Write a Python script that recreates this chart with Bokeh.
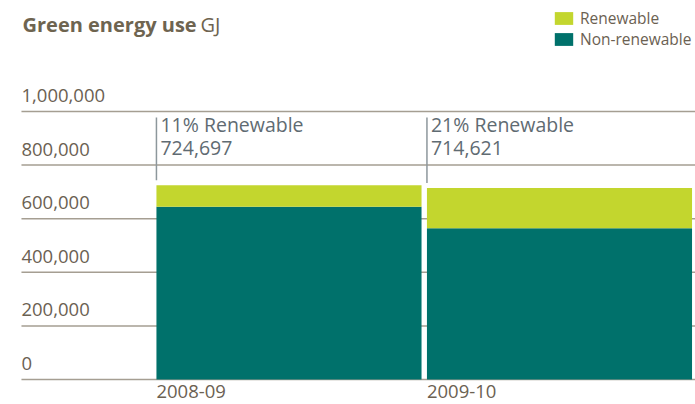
from bokeh.plotting import figure
from bokeh.models import ColumnDataSource, Range1d, Label, Legend, LegendItem
from bokeh.core.properties import value
from bokeh.embed import file_html
from bokeh.resources import INLINE

# ---- data ----
years = ["2008-09", "2009-10"]
total = [724697, 714621]
renewable_pct = [11, 21]
renewable = [79717, 150070]
non_renewable = [644980, 564551]
y_ticks = [0, 200000, 400000, 600000, 800000, 1000000]
y_tick_labels = ["0", "200,000", "400,000", "600,000", "800,000", "1,000,000"]

# ---- style ----
FONT = value("Open Sans")
TEAL = "#00716b"
LIME = "#c3d62e"
BROWN = "#6b6152"
GRID = "#a59e92"
NOTE = "#5f6b72"
BAR_W = 0.98
X0, X1 = -1.0665, 1.5028
GRID_X0 = -0.989

p = figure(width=695, height=404, output_backend="svg", toolbar_location=None,
           x_range=Range1d(X0, X1), y_range=Range1d(-93284, 1414179),
           x_axis_type=None, y_axis_type=None, title=None,
           min_border_left=0, min_border_right=0, min_border_top=0, min_border_bottom=0,
           outline_line_color=None)
p.grid.visible = False

# gridlines
n = len(y_ticks)
p.segment(x0=[GRID_X0] * n, x1=[X1] * n, y0=y_ticks, y1=y_ticks,
          line_color=GRID, line_width=1.5)
# tick labels above gridlines
p.text(x=[GRID_X0] * n, y=y_ticks, text=y_tick_labels, text_font=FONT,
       text_font_size="18.5px", text_color=BROWN, text_align="left",
       text_baseline="alphabetic", y_offset=-16)

# bars
idx = list(range(len(years)))
src = ColumnDataSource(dict(x=idx, non=non_renewable, ren=renewable))
rs = p.vbar_stack(["non", "ren"], x="x", width=BAR_W, color=[TEAL, LIME],
                  line_color=None, source=src)

# annotations
left = [i - BAR_W / 2 for i in idx]
p.segment(x0=left, x1=left, y0=[1000000 - 22400] * len(idx),
          y1=[t + 18700 for t in total], line_color="#8d979c", line_width=1.5)
line1 = [f"{pc}% Renewable" for pc in renewable_pct]
line2 = [f"{t:,}" for t in total]
p.text(x=left, y=[1000000] * len(idx), text=line1, text_font=FONT,
       text_font_size="19.5px", text_color=NOTE, text_baseline="alphabetic",
       x_offset=4, y_offset=13)
p.text(x=left, y=[1000000] * len(idx), text=line2, text_font=FONT,
       text_font_size="19.5px", text_color=NOTE, text_baseline="alphabetic",
       x_offset=4, y_offset=37)

# x labels
p.text(x=left, y=[0] * len(idx), text=years, text_font=FONT,
       text_font_size="18.5px", text_color=BROWN, text_baseline="alphabetic",
       y_offset=12)

# title
p.add_layout(Label(x=22, y=380, x_units="screen", y_units="screen",
                   text="Green energy use", text_font="Open Sans",
                   text_font_style="bold", text_font_size="20px",
                   text_color="#6e6450", text_baseline="alphabetic"))
p.add_layout(Label(x=200, y=380, x_units="screen", y_units="screen",
                   text="GJ", text_font="Open Sans", text_font_size="20px",
                   text_color="#6e6450", text_baseline="alphabetic"))

common = dict(glyph_width=23, glyph_height=16, label_height=16, padding=0,
              margin=0, border_line_color=None, background_fill_alpha=0,
              label_text_font="Open Sans", label_text_font_size="15.5px",
              label_text_color=BROWN, label_standoff=5)
p.add_layout(Legend(items=[LegendItem(label="Renewable", renderers=[rs[1]])],
                    location=(552, 375), **common))
p.add_layout(Legend(items=[LegendItem(label="Non-renewable", renderers=[rs[0]])],
                    location=(552, 354), **common))

open("out.html", "w").write(file_html(p, INLINE))
